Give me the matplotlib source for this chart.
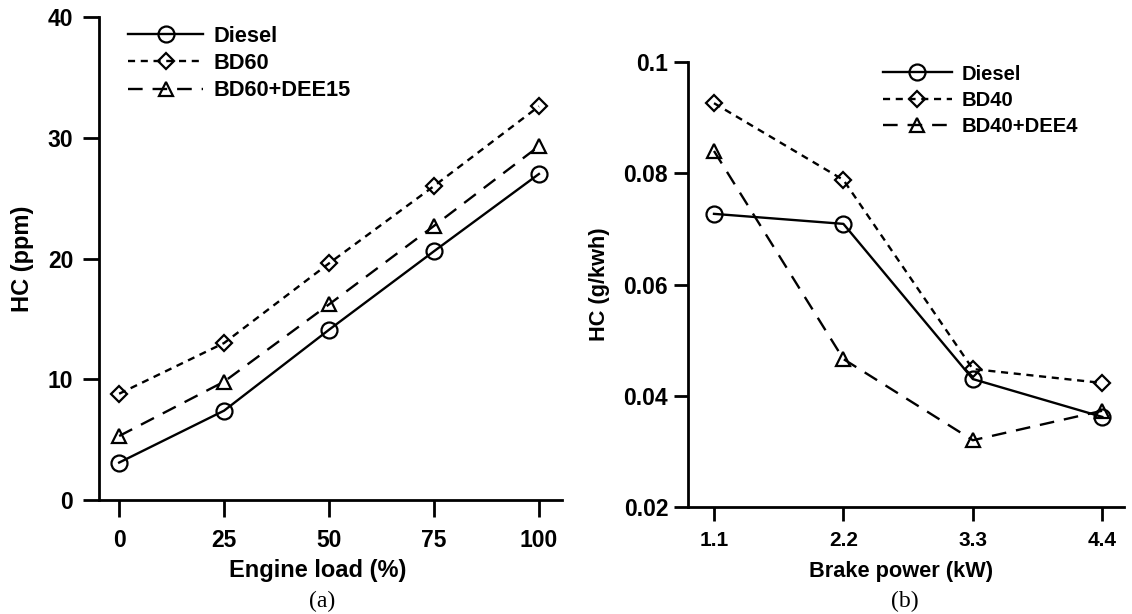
import matplotlib
matplotlib.use("Agg")
import matplotlib.pyplot as plt

# ---- data ----
load = [0, 25, 50, 75, 100]
load_labels = ["0", "25", "50", "75", "100"]
hc_ppm_diesel = [3.1, 7.4, 14.1, 20.6, 27.0]
hc_ppm_bd60 = [8.8, 13.0, 19.6, 26.0, 32.6]
hc_ppm_bd60_dee15 = [5.3, 9.8, 16.2, 22.7, 29.3]
left_series_names = ["Diesel", "BD60", "BD60+DEE15"]

power = [1.1, 2.2, 3.3, 4.4]
power_labels = ["1.1", "2.2", "3.3", "4.4"]
hc_g_diesel = [0.0727, 0.0709, 0.0430, 0.0362]
hc_g_bd40 = [0.0926, 0.0788, 0.0448, 0.0423]
hc_g_bd40_dee4 = [0.0840, 0.0466, 0.0320, 0.0373]
right_series_names = ["Diesel", "BD40", "BD40+DEE4"]

left_yticks = [0, 10, 20, 30, 40]
left_ytick_labels = ["0", "10", "20", "30", "40"]
right_yticks = [0.02, 0.04, 0.06, 0.08, 0.1]
right_ytick_labels = ["0.02", "0.04", "0.06", "0.08", "0.1"]

# ---- style ----
plt.rcParams['font.family'] = ['Liberation Sans', 'DejaVu Sans']
LW = 1.7
styles = [
    dict(linestyle='-', marker='o', markersize=11.5),
    dict(linestyle=(0, (3, 2.4)), marker='D', markersize=8.5),
    dict(linestyle=(0, (6.2, 4.2)), marker='^', markersize=10.5),
]

W, H = 1132, 614
fig = plt.figure(figsize=(W / 100, H / 100), dpi=100)

def px_axes(l, r, b, t):
    return fig.add_axes([l / W, (H - b) / H, (r - l) / W, (b - t) / H])

ax1 = px_axes(99, 562, 500, 17)
ax2 = px_axes(688, 1124, 507, 62)

def style_axes(ax, xtick_fs, ytick_fs, xlen, xpad, ylen, ypad):
    for s in ['top', 'right']:
        ax.spines[s].set_visible(False)
    for s in ['left', 'bottom']:
        ax.spines[s].set_linewidth(2.0)
    ax.tick_params(direction='out', width=2.0)
    ax.tick_params(axis='x', length=xlen, pad=xpad, labelsize=xtick_fs)
    ax.tick_params(axis='y', length=ylen, pad=ypad, labelsize=ytick_fs)
    for lab in ax.get_xticklabels() + ax.get_yticklabels():
        lab.set_fontweight('bold')

def draw(ax, x, ys, names, xlim, ylim, xticks, xticklabels, yticks, yticklabels,
         xlabel, ylabel, label_fs, legend_anchor, legend_fs, handlelength,
         handletextpad, labelspacing):
    for y, name, st in zip(ys, names, styles):
        ax.plot(x, y, color='black', linewidth=LW, markerfacecolor='none',
                markeredgecolor='black', markeredgewidth=1.6, label=name,
                clip_on=False, **st)
    ax.set_xlim(*xlim)
    ax.set_ylim(*ylim)
    ax.set_xticks(xticks)
    ax.set_xticklabels(xticklabels)
    ax.set_yticks(yticks)
    ax.set_yticklabels(yticklabels)
    ax.set_xlabel(xlabel, fontsize=label_fs, fontweight='bold')
    ax.set_ylabel(ylabel, fontsize=label_fs, fontweight='bold')
    ax.legend(loc='upper left', bbox_to_anchor=legend_anchor, frameon=False,
              numpoints=1, handlelength=handlelength, handletextpad=handletextpad,
              labelspacing=labelspacing, borderaxespad=0, borderpad=0,
              prop=dict(size=legend_fs, weight='bold'))

draw(ax1, load, [hc_ppm_diesel, hc_ppm_bd60, hc_ppm_bd60_dee15], left_series_names,
     (-4.8, 105.5), (0, 40), load, load_labels, left_yticks,
     left_ytick_labels, "Engine load (%)", "HC (ppm)", 17,
     ((128 - 99) / 463, (500 - 26) / 483), 15.7, 3.44, 0.46, 0.28)
style_axes(ax1, 16.5, 16.5, xlen=12, xpad=9, ylen=11.5, ypad=7)
ax1.xaxis.set_label_coords((317.5 - 99) / 463, (500 - 558.5) / 483)
ax1.yaxis.set_label_coords((34.5 - 99) / 463, 0.5)

draw(ax2, power, [hc_g_diesel, hc_g_bd40, hc_g_bd40_dee4], right_series_names,
     (0.879, 4.585), (0.02, 0.1), power, power_labels, right_yticks,
     right_ytick_labels, "Brake power (kW)", "HC (g/kwh)", 15.7,
     ((883 - 688) / 436, (507 - 64.5) / 445), 14.6, 3.4, 0.5, 0.35)
style_axes(ax2, 15.0, 16.5, xlen=10, xpad=7.5, ylen=10, ypad=4.3)
ax2.xaxis.set_label_coords((901 - 688) / 436, (507 - 560.5) / 445)
ax2.yaxis.set_label_coords((610 - 688) / 436, 0.5)

fig.text(322 / W, 1 - 601 / H, "(a)", ha='center', va='center',
         fontsize=17, family=['Liberation Serif', 'DejaVu Serif'])
fig.text(905 / W, 1 - 601 / H, "(b)", ha='center', va='center',
         fontsize=17, family=['Liberation Serif', 'DejaVu Serif'])

fig.savefig("out.png", dpi=100)
